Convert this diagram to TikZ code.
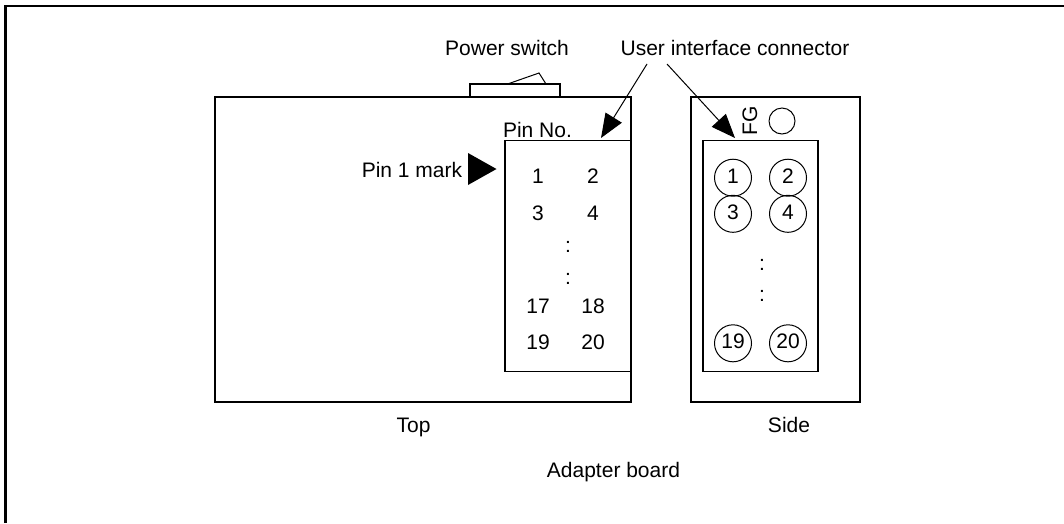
\documentclass[tikz,border=0pt]{standalone}
\usepackage{fontspec}
\setmainfont{Liberation Sans}
\usetikzlibrary{arrows.meta}
\tikzset{
  boardbox/.style={draw,line width=1.3pt,minimum width=#1,inner sep=0pt,outer sep=0pt},
  pinhole/.style={draw,circle,line width=1pt,minimum size=37pt,inner sep=0pt,text height=14.6pt,text depth=4pt},
  caption/.style={anchor=base},
  callout/.style={-{Triangle[length=24pt,width=19pt]},line width=1pt},
}
\begin{document}
\begin{tikzpicture}[x=1pt,y=-1pt,font=\fontsize{21pt}{25pt}\selectfont]
      \useasboundingbox (0,0) rectangle (1064,523);
      \draw[line width=2.4pt] (5.4,523) -- (5.4,6) -- (1064,6);
      \draw
        (423,249.5) node[boardbox=416pt,minimum height=305pt] (top){}
        (568,256) node[boardbox=126pt,minimum height=231pt] (pinbox){}
        (515,90.5) node[boardbox=90pt,minimum height=13pt] (switch){}
        (775.5,249.5) node[boardbox=169pt,minimum height=305pt] (side){}
        (760.5,256) node[boardbox=115pt,minimum height=231pt] (socket){}
        (782,121) node[draw,circle,line width=1pt,minimum size=26pt,inner sep=0pt] (fgpin){}
        (757,121) node[caption,rotate=90] (fg){FG};
      \draw
        (507,55) node[caption] (powerlabel){Power switch}
        (735,55) node[caption] (userlabel){User interface connector}
        (537.5,137) node[caption] (pinno){Pin No.}
        (412,177) node[caption] (marklabel){Pin 1 mark}
        (413.5,432) node[caption] (toplabel){Top}
        (789,432) node[caption] (sidelabel){Side}
        (613.5,477) node[caption] (adapter){Adapter board};
      \draw
        (538,183) node[caption] (a1){1}
        (593,183) node[caption] (a2){2}
        (538,220) node[caption] (a3){3}
        (593,220) node[caption] (a4){4}
        (568,252) node[caption] (adots1){:}
        (568,284) node[caption] (adots2){:}
        (538,313) node[caption] (a17){17}
        (593,313) node[caption] (a18){18}
        (538,349) node[caption] (a19){19}
        (593,349) node[caption] (a20){20};
      \draw
        (733,177.7) node[pinhole] (b1){1}
        (788,177.7) node[pinhole] (b2){2}
        (733,213.8) node[pinhole] (b3){3}
        (788,213.8) node[pinhole] (b4){4}
        (762,270) node[caption] (bdots1){:}
        (762,301) node[caption] (bdots2){:}
        (733,343.3) node[pinhole] (b19){19}
        (788,343.3) node[pinhole] (b20){20};
      \fill (468,153) -- (496.5,169) -- (468,185) -- cycle;
      \draw[line width=1pt] (509,83.5) -- (539,73) -- (546,84);
      \coordinate (lstart) at (647,64);
      \coordinate (lend) at (601,138);
      \coordinate (rstart) at (667,64);
      \coordinate (rend) at (735,138);
      \begin{scope}[callout]
        \draw (lstart) to (lend);
        \draw (rstart) to (rend);
      \end{scope}
    \end{tikzpicture}
\end{document}
